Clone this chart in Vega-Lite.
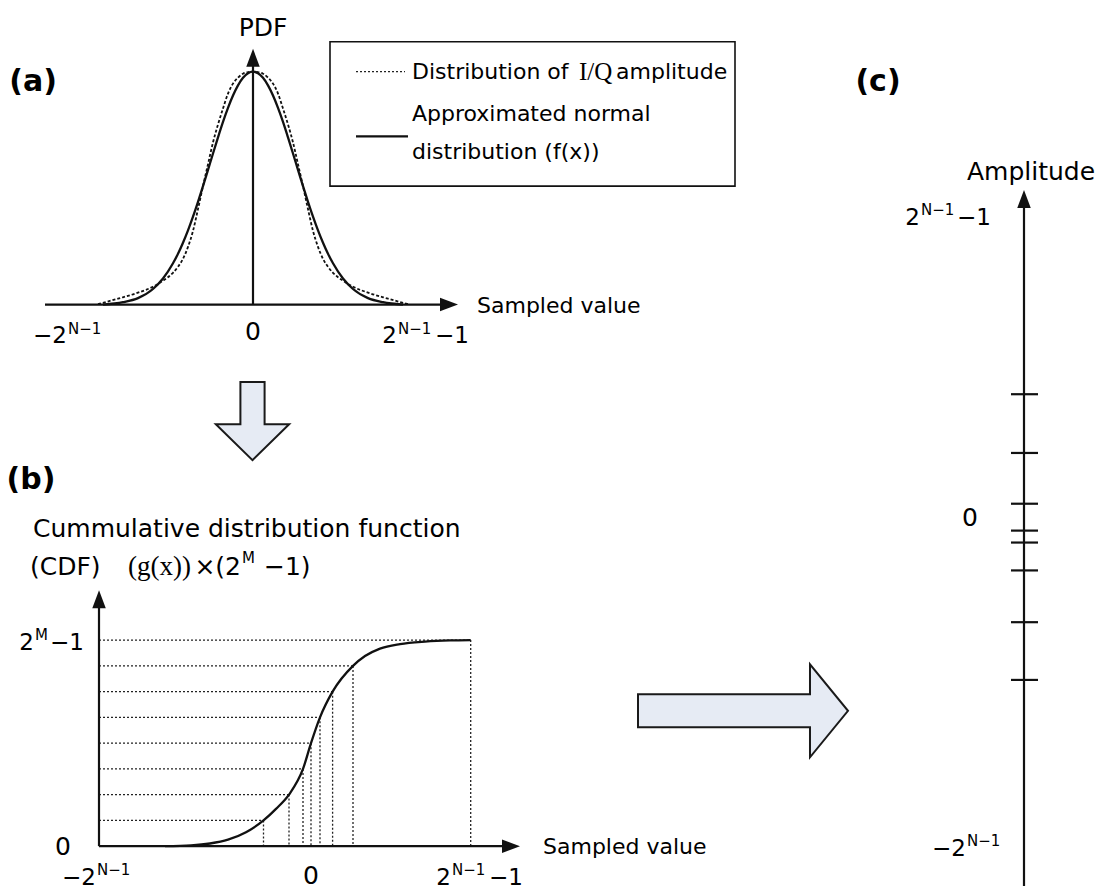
{
  "$schema": "https://vega.github.io/schema/vega-lite/v6.json",
  "width": 1100,
  "height": 890,
  "padding": 0,
  "autosize": {"type": "fit", "contains": "padding"},
  "background": "white",
  "config": {"view": {"stroke": null}, "text": {"font": "DejaVu Sans", "fontSize": 23, "color": "black", "baseline": "middle"}},
  "encoding": {
    "x": {"field": "x", "type": "quantitative", "scale": {"domain": [0, 1100], "nice": false, "zero": false}, "axis": null},
    "y": {"field": "y", "type": "quantitative", "scale": {"domain": [0, 890], "nice": false, "zero": false, "reverse": true}, "axis": null}
  },
  "layer": [
    {
      "data": {"values": [{"x": 330, "y": 42, "x2": 735, "y2": 187}]},
      "mark": {"type": "rect", "fill": "white", "stroke": "#111", "strokeWidth": 1.6},
      "encoding": {"x2": {"field": "x2"}, "y2": {"field": "y2"}}
    },
    {
      "data": {"values": [{"x": 252.5, "y": 423, "arrow": "down"}]},
      "mark": {"type": "point", "filled": true, "fill": "#e6ebf4", "stroke": "#1a1a1a", "strokeWidth": 2, "opacity": 1, "fillOpacity": 1, "size": 6084,
        "shape": "M-0.31,-1 L0.31,-1 L0.31,0.08 L0.94,0.08 L0,1 L-0.94,0.08 L-0.31,0.08 Z"}
    },
    {
      "data": {"values": [{"x": 743, "y": 714, "arrow": "right"}]},
      "mark": {"type": "point", "filled": true, "fill": "#e6ebf4", "stroke": "#1a1a1a", "strokeWidth": 2, "opacity": 1, "fillOpacity": 1, "size": 44100,
        "shape": "M-1,-0.157 L0.638,-0.157 L0.638,-0.443 L1,0 L0.638,0.443 L0.638,0.157 L-1,0.157 Z"}
    },
    {
      "data": {"values": [
        {"x": 99, "y": 824.1, "x2": 263.5, "y2": 824.1},
        {"x": 99, "y": 798.2, "x2": 289, "y2": 798.2},
        {"x": 99, "y": 772.4, "x2": 303, "y2": 772.4},
        {"x": 99, "y": 746.5, "x2": 311, "y2": 746.5},
        {"x": 99, "y": 720.6, "x2": 320, "y2": 720.6},
        {"x": 99, "y": 694.8, "x2": 332.6, "y2": 694.8},
        {"x": 99, "y": 668.9, "x2": 353, "y2": 668.9},
        {"x": 99, "y": 643, "x2": 470.7, "y2": 643},
        {"x": 263.5, "y": 824.1, "x2": 263.5, "y2": 850},
        {"x": 289, "y": 798.2, "x2": 289, "y2": 850},
        {"x": 303, "y": 772.4, "x2": 303, "y2": 850},
        {"x": 311, "y": 746.5, "x2": 311, "y2": 850},
        {"x": 320, "y": 720.6, "x2": 320, "y2": 850},
        {"x": 332.6, "y": 694.8, "x2": 332.6, "y2": 850},
        {"x": 353, "y": 668.9, "x2": 353, "y2": 850},
        {"x": 470.7, "y": 643, "x2": 470.7, "y2": 850},
        {"x": 356, "y": 72, "x2": 405, "y2": 72}
      ]},
      "mark": {"type": "rule", "color": "#222", "strokeWidth": 1.3, "strokeDash": [2, 2]},
      "encoding": {"x2": {"field": "x2"}, "y2": {"field": "y2"}}
    },
    {
      "data": {"values": [
        {"x": 45, "y": 306, "x2": 444, "y2": 306},
        {"x": 253, "y": 306, "x2": 253, "y2": 62},
        {"x": 99, "y": 850, "x2": 506, "y2": 850},
        {"x": 99, "y": 850, "x2": 99, "y2": 606},
        {"x": 1024, "y": 890, "x2": 1024, "y2": 204},
        {"x": 356, "y": 137, "x2": 408, "y2": 137},
        {"x": 1011, "y": 396, "x2": 1038, "y2": 396},
        {"x": 1011, "y": 455, "x2": 1038, "y2": 455},
        {"x": 1011, "y": 506, "x2": 1038, "y2": 506},
        {"x": 1011, "y": 533, "x2": 1038, "y2": 533},
        {"x": 1011, "y": 545, "x2": 1038, "y2": 545},
        {"x": 1011, "y": 573, "x2": 1038, "y2": 573},
        {"x": 1011, "y": 625, "x2": 1038, "y2": 625},
        {"x": 1011, "y": 683, "x2": 1038, "y2": 683}
      ]},
      "mark": {"type": "rule", "color": "#111", "strokeWidth": 2.2},
      "encoding": {"x2": {"field": "x2"}, "y2": {"field": "y2"}}
    },
    {
      "data": {"values": [
        {"x": 103, "y": 306}, {"x": 123, "y": 303.6}, {"x": 138, "y": 299.5}, {"x": 153, "y": 290.3}, {"x": 163, "y": 279.8},
        {"x": 173, "y": 264.5}, {"x": 178, "y": 254.9}, {"x": 183, "y": 243.8}, {"x": 188, "y": 231.4}, {"x": 193, "y": 217.6},
        {"x": 198, "y": 202.7}, {"x": 203, "y": 187.0}, {"x": 208, "y": 170.7}, {"x": 213, "y": 154.2}, {"x": 218, "y": 138.0},
        {"x": 223, "y": 122.5}, {"x": 228, "y": 108.4}, {"x": 233, "y": 96.0}, {"x": 238, "y": 85.8}, {"x": 243, "y": 78.2},
        {"x": 248, "y": 73.6}, {"x": 253, "y": 72}, {"x": 258, "y": 73.6}, {"x": 263, "y": 78.2}, {"x": 268, "y": 85.8},
        {"x": 273, "y": 96.0}, {"x": 278, "y": 108.4}, {"x": 283, "y": 122.5}, {"x": 288, "y": 138.0}, {"x": 293, "y": 154.2},
        {"x": 298, "y": 170.7}, {"x": 303, "y": 187.0}, {"x": 308, "y": 202.7}, {"x": 313, "y": 217.6}, {"x": 318, "y": 231.4},
        {"x": 323, "y": 243.8}, {"x": 328, "y": 254.9}, {"x": 333, "y": 264.5}, {"x": 343, "y": 279.8}, {"x": 353, "y": 290.3},
        {"x": 368, "y": 299.5}, {"x": 383, "y": 303.6}, {"x": 403, "y": 306}
      ]},
      "mark": {"type": "line", "color": "#111", "strokeWidth": 2.3, "interpolate": "monotone"}
    },
    {
      "data": {"values": [
        {"x": 98, "y": 305.5}, {"x": 118, "y": 300}, {"x": 138, "y": 294}, {"x": 153, "y": 288}, {"x": 163, "y": 282},
        {"x": 173, "y": 274}, {"x": 178, "y": 268}, {"x": 183, "y": 260}, {"x": 188, "y": 248}, {"x": 193, "y": 232},
        {"x": 198, "y": 210}, {"x": 203, "y": 187}, {"x": 208, "y": 165}, {"x": 213, "y": 143}, {"x": 218, "y": 125},
        {"x": 223, "y": 109}, {"x": 228, "y": 94}, {"x": 233, "y": 84}, {"x": 238, "y": 78}, {"x": 243, "y": 74},
        {"x": 248, "y": 72.5}, {"x": 253, "y": 72}, {"x": 258, "y": 72.5}, {"x": 263, "y": 74}, {"x": 268, "y": 78},
        {"x": 273, "y": 84}, {"x": 278, "y": 94}, {"x": 283, "y": 109}, {"x": 288, "y": 125}, {"x": 293, "y": 143},
        {"x": 298, "y": 165}, {"x": 303, "y": 187}, {"x": 308, "y": 210}, {"x": 313, "y": 232}, {"x": 318, "y": 248},
        {"x": 323, "y": 260}, {"x": 328, "y": 268}, {"x": 333, "y": 274}, {"x": 343, "y": 282}, {"x": 353, "y": 288},
        {"x": 368, "y": 294}, {"x": 388, "y": 300}, {"x": 408, "y": 305.5}
      ]},
      "mark": {"type": "line", "color": "#111", "strokeWidth": 1.8, "strokeDash": [3, 2], "interpolate": "monotone"}
    },
    {
      "data": {"values": [
        {"x": 165, "y": 850}, {"x": 191, "y": 849.2}, {"x": 210, "y": 847.3}, {"x": 228, "y": 843.5}, {"x": 246, "y": 836},
        {"x": 263.5, "y": 824.1}, {"x": 276, "y": 812.5}, {"x": 289, "y": 798.2}, {"x": 303, "y": 772.4}, {"x": 311, "y": 746.5},
        {"x": 320, "y": 720.6}, {"x": 332.6, "y": 694.8}, {"x": 353, "y": 668.9}, {"x": 365, "y": 659}, {"x": 380, "y": 651.5},
        {"x": 400, "y": 647}, {"x": 425, "y": 644.5}, {"x": 450, "y": 643.3}, {"x": 470.7, "y": 643}
      ]},
      "mark": {"type": "line", "color": "#111", "strokeWidth": 2.3, "interpolate": "monotone"}
    },
    {
      "data": {"values": [{"x": 449, "y": 306}, {"x": 511, "y": 850}]},
      "mark": {"type": "point", "filled": true, "color": "#111", "opacity": 1, "size": 324, "shape": "M-1,-0.75 L1,0 L-1,0.75 Z"}
    },
    {
      "data": {"values": [{"x": 253, "y": 58}, {"x": 99, "y": 602}, {"x": 1024, "y": 200}]},
      "mark": {"type": "point", "filled": true, "color": "#111", "opacity": 1, "size": 324, "shape": "M-0.75,1 L0,-1 L0.75,1 Z"}
    },
    {
      "data": {"values": [
        {"x": 412, "y": 72, "label": "Distribution of"},
        {"x": 616, "y": 72, "label": "amplitude"},
        {"x": 412, "y": 115, "label": "Approximated normal"},
        {"x": 412, "y": 153, "label": "distribution (f(x))"},
        {"x": 477, "y": 307, "label": "Sampled value"},
        {"x": 543, "y": 851, "label": "Sampled value"}
      ]},
      "mark": {"type": "text", "align": "left", "fontSize": 22},
      "encoding": {"text": {"field": "label"}}
    },
    {
      "data": {"values": [{"x": 579, "y": 72, "label": "I/Q"}]},
      "mark": {"type": "text", "align": "left", "fontSize": 25, "font": "Liberation Serif"},
      "encoding": {"text": {"field": "label"}}
    },
    {
      "data": {"values": [
        {"x": 33, "y": 531, "label": "Cummulative distribution function"},
        {"x": 30, "y": 570, "label": "(CDF)"},
        {"x": 264, "y": 570, "label": "−1)"},
        {"x": 967, "y": 173, "label": "Amplitude"}
      ]},
      "mark": {"type": "text", "align": "left", "fontSize": 25},
      "encoding": {"text": {"field": "label"}}
    },
    {
      "data": {"values": [{"x": 128, "y": 570, "label": "(g(x))"}]},
      "mark": {"type": "text", "align": "left", "fontSize": 27, "font": "Liberation Serif"},
      "encoding": {"text": {"field": "label"}}
    },
    {
      "data": {"values": [{"x": 241, "y": 570, "label": "×(2"}]},
      "mark": {"type": "text", "align": "right", "fontSize": 25},
      "encoding": {"text": {"field": "label"}}
    },
    {
      "data": {"values": [
        {"x": 435, "y": 338, "label": "−1"},
        {"x": 957, "y": 219, "label": "−1"},
        {"x": 50, "y": 646, "label": "−1"},
        {"x": 489, "y": 882, "label": "−1"}
      ]},
      "mark": {"type": "text", "align": "left"},
      "encoding": {"text": {"field": "label"}}
    },
    {
      "data": {"values": [
        {"x": 67, "y": 338, "label": "−2"},
        {"x": 397, "y": 338, "label": "2"},
        {"x": 34, "y": 646, "label": "2"},
        {"x": 920, "y": 219, "label": "2"},
        {"x": 966, "y": 853, "label": "−2"},
        {"x": 96, "y": 882, "label": "−2"},
        {"x": 451, "y": 882, "label": "2"}
      ]},
      "mark": {"type": "text", "align": "right"},
      "encoding": {"text": {"field": "label"}}
    },
    {
      "data": {"values": [
        {"x": 68, "y": 330, "label": "N−1"},
        {"x": 398, "y": 330, "label": "N−1"},
        {"x": 35, "y": 638, "label": "M"},
        {"x": 242, "y": 561, "label": "M"},
        {"x": 921, "y": 211, "label": "N−1"},
        {"x": 967, "y": 845, "label": "N−1"},
        {"x": 97, "y": 874, "label": "N−1"},
        {"x": 452, "y": 874, "label": "N−1"}
      ]},
      "mark": {"type": "text", "align": "left", "fontSize": 15},
      "encoding": {"text": {"field": "label"}}
    },
    {
      "data": {"values": [
        {"x": 263, "y": 28, "label": "PDF"},
        {"x": 253, "y": 333, "label": "0"},
        {"x": 63, "y": 851, "label": "0"},
        {"x": 311, "y": 880, "label": "0"},
        {"x": 970, "y": 520, "label": "0"}
      ]},
      "mark": {"type": "text", "align": "center", "fontSize": 25},
      "encoding": {"text": {"field": "label"}}
    },
    {
      "data": {"values": [
        {"x": 33, "y": 82, "label": "(a)"},
        {"x": 31, "y": 482, "label": "(b)"},
        {"x": 878, "y": 82, "label": "(c)"}
      ]},
      "mark": {"type": "text", "align": "center", "fontSize": 30, "fontWeight": "bold"},
      "encoding": {"text": {"field": "label"}}
    }
  ]
}
